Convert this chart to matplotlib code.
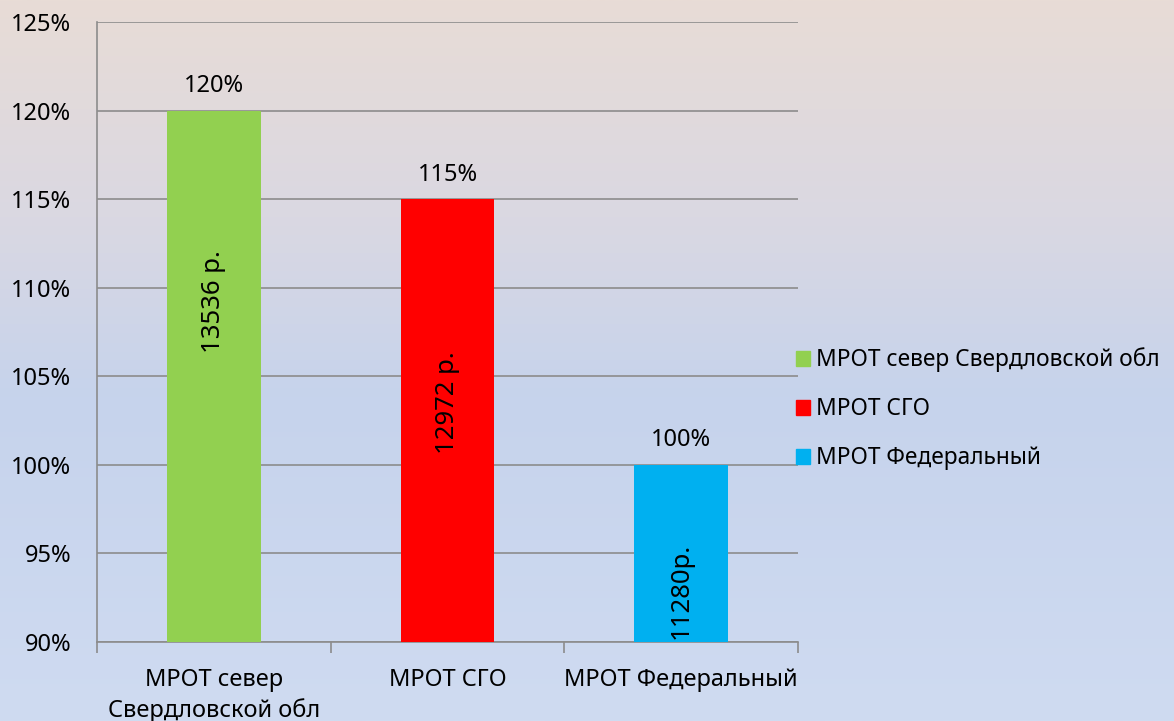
import matplotlib
matplotlib.use("Agg")
import matplotlib.pyplot as plt
import numpy as np
from matplotlib.colors import LinearSegmentedColormap

categories = ["МРОТ север\nСвердловской обл", "МРОТ СГО", "МРОТ Федеральный"]
legend_labels = ["МРОТ север Свердловской обл", "МРОТ СГО", "МРОТ Федеральный"]
percent_values = [120, 115, 100]
top_labels = ["120%", "115%", "100%"]
inner_labels = ["13536 р.", "12972 р.", "11280р."]
inner_label_pos = [109.2, 103.5, 92.9]
colors = ["#92D050", "#FF0000", "#00B0F0"]
yticks = [90, 95, 100, 105, 110, 115, 120, 125]

plt.rcParams['font.family'] = ['Noto Sans', 'DejaVu Sans']
FS = 17
FS_IN = 18.5
FS_LEG = 16.4

fig = plt.figure(figsize=(11.74, 7.21), dpi=100)

# background gradient
bg = fig.add_axes([0, 0, 1, 1], zorder=-10)
cmap = LinearSegmentedColormap.from_list(
    "bg", [(0.0, "#E8DCD6"), (0.3, "#DAD8E2"), (0.55, "#C6D3EC"), (1.0, "#CFDBF1")])
grad = np.linspace(0, 1, 256).reshape(-1, 1)
bg.imshow(grad, aspect="auto", cmap=cmap, extent=[0, 1, 0, 1], origin="upper")
bg.axis("off")

W, H = 1174, 721
left, right, top, bottom = 97, 798, 22, 642
ax = fig.add_axes([left / W, 1 - bottom / H, (right - left) / W, (bottom - top) / H])
ax.set_facecolor("none")

x = np.arange(len(categories))
bars = ax.bar(x, [v - 90 for v in percent_values], bottom=90, width=0.4,
              color=colors, zorder=3)
ax.set_xlim(-0.5, 2.5)
ax.set_ylim(90, 125)
ax.set_yticks(yticks)
ax.set_yticklabels([f"{t}%" for t in yticks], fontsize=FS)
ax.yaxis.grid(True, color="#8C8C8C", linewidth=1.2, zorder=0)
ax.tick_params(axis="y", length=0, pad=18.5)

ax.set_xticks([-0.5, 0.5, 1.5, 2.5])
ax.set_xticklabels([])
ax.tick_params(axis="x", which="major", length=8, direction="out", color="#8C8C8C", width=1.2)
ax.set_xticks(x, minor=True)
ax.set_xticklabels(categories, minor=True, fontsize=FS, linespacing=1.3)
ax.tick_params(axis="x", which="minor", length=0, pad=19)

for s in ["top", "right"]:
    ax.spines[s].set_visible(False)
for s in ["left", "bottom"]:
    ax.spines[s].set_color("#8C8C8C")
    ax.spines[s].set_linewidth(1.2)

for i in range(len(categories)):
    ax.annotate(top_labels[i], (x[i], percent_values[i]), xytext=(0, 9),
                textcoords="offset points", ha="center", va="bottom", fontsize=FS)
    t = ax.text(x[i], inner_label_pos[i], inner_labels[i], rotation=90,
                ha="center", va="center", fontsize=FS_IN, zorder=4)
    t.set_clip_on(True)

handles = [plt.Rectangle((0, 0), 1, 1, color=c) for c in colors]
leg = fig.legend(handles, legend_labels, loc="center left",
                 bbox_to_anchor=(796 / W, 1 - 409 / H), frameon=False,
                 fontsize=FS_LEG, handlelength=0.6, handleheight=0.6,
                 handletextpad=0.3, labelspacing=1.1, borderaxespad=0,
                 borderpad=0)

fig.savefig("out.png", dpi=100)
